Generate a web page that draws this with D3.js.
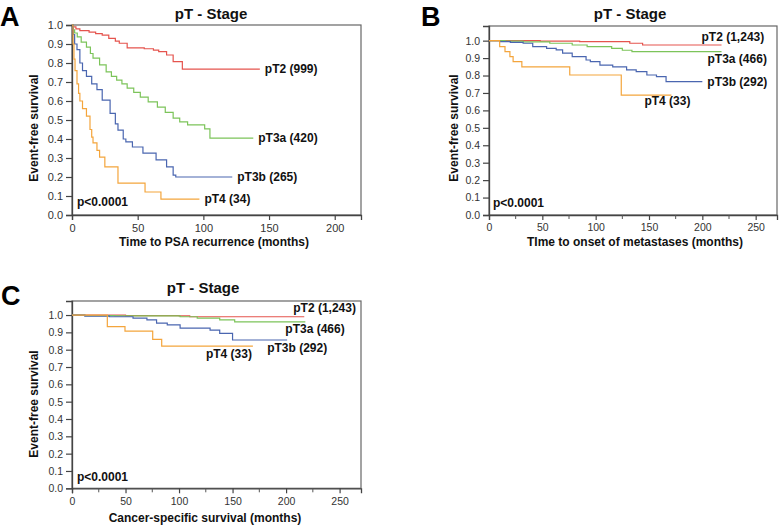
<!DOCTYPE html>
<html><head><meta charset="utf-8">
<script src="https://cdn.jsdelivr.net/npm/d3@7"></script>
<style>
body{margin:0;background:#fff}
text{font-family:"Liberation Sans",Arial,Helvetica,sans-serif}
</style>
</head><body>
<svg id="chart" width="781" height="525"></svg>
<script>
// ---------- DATA ----------
const groups = ["pT2", "pT3a", "pT3b", "pT4"];
const yTickValues = [0, 0.1, 0.2, 0.3, 0.4, 0.5, 0.6, 0.7, 0.8, 0.9, 1.0];
const xTicksA = [0, 50, 100, 150, 200];
const xTicksBC = [0, 50, 100, 150, 200, 250];
const xMinorBC = [25, 75, 125, 175, 225];

// Panel A: time to PSA recurrence  [months, survival]
const labelsA = ["pT2 (999)", "pT3a (420)", "pT3b (265)", "pT4 (34)"];
const a_pT2 = [[0,1],[1,0.99],[3,0.98],[6,0.97],[13,0.962],[18,0.955],[23,0.947],[28,0.93],[33,0.915],[36,0.904],[42,0.88],[55,0.875],[62,0.868],[66,0.86],[72,0.842],[77,0.807],[84,0.768],[143,0.768]];
const a_pT3a = [[0,1],[1,0.975],[2,0.958],[4,0.937],[7,0.91],[11,0.884],[14,0.85],[16,0.826],[21,0.79],[26,0.753],[30,0.73],[34,0.71],[38,0.69],[42,0.668],[47,0.645],[52,0.62],[58,0.595],[65,0.568],[71,0.54],[77,0.51],[82,0.49],[88,0.474],[101,0.453],[105,0.405],[138,0.405]];
const a_pT3b = [[0,1],[1,0.95],[2,0.9],[3.8,0.87],[6,0.8],[8,0.76],[11,0.73],[15,0.69],[19,0.66],[23,0.605],[29,0.535],[33,0.48],[35,0.447],[39,0.4],[41,0.385],[46,0.358],[54,0.326],[64,0.29],[72,0.253],[77,0.21],[79,0.2],[122,0.2]];
const a_pT4 = [[0,1],[0.8,0.9],[1.5,0.82],[2.3,0.76],[3.8,0.69],[5,0.64],[6,0.6],[8,0.56],[11,0.52],[13.7,0.45],[15,0.41],[16,0.38],[19,0.34],[21,0.305],[25,0.253],[35,0.168],[55.6,0.121],[67.7,0.084],[97,0.084]];

// Panel B: time to onset of metastases
const labelsB = ["pT2 (1,243)", "pT3a (466)", "pT3b (292)", "pT4 (33)"];
const b_pT2 = [[0,1],[48,0.997],[85,0.994],[132,0.985],[144,0.975],[218,0.975]];
const b_pT3a = [[0,1],[15,0.997],[32,0.993],[57,0.985],[78,0.975],[92,0.966],[115,0.956],[125,0.945],[134,0.937],[218,0.937]];
const b_pT3b = [[0,1],[10,0.994],[20,0.99],[32,0.985],[41,0.966],[54,0.956],[63,0.947],[69,0.928],[78,0.908],[91,0.889],[95,0.88],[104,0.86],[116,0.85],[129,0.832],[138,0.822],[148,0.803],[157,0.794],[166,0.765],[200,0.765]];
const b_pT4 = [[0,1],[10,0.966],[15,0.937],[19.6,0.908],[22.6,0.88],[30.8,0.85],[75.7,0.803],[124,0.688],[171,0.688]];

// Panel C: cancer-specific survival
const labelsC = ["pT2 (1,243)", "pT3a (466)", "pT3b (292)", "pT4 (33)"];
const c_pT2 = [[0,1],[50,0.997],[100,0.995],[110,0.99],[217,0.99]];
const c_pT3a = [[0,1],[12,0.997],[40,0.995],[101,0.99],[117,0.982],[138,0.972],[152,0.961],[218,0.961]];
const c_pT3b = [[0,1],[12,0.994],[35,0.99],[57,0.982],[70,0.972],[79,0.953],[89,0.943],[101,0.925],[129,0.913],[138,0.894],[150,0.856],[201,0.856]];
const c_pT4 = [[0,1],[33,0.933],[49.5,0.907],[75.4,0.86],[83.8,0.821],[169,0.821]];

// ---------- STYLE / LAYOUT ----------
const colors = {pT2:"#e5544e", pT3a:"#7cc45a", pT3b:"#4a66b0", pT4:"#f4a53c"};

const panels = [
  {letter:"A", lx:0, ly:26, title:"pT - Stage", tx:211, ty:19,
   left:72, right:361, top:25, bottom:215, xmax:220, ymax:1.0,
   xTicks:xTicksA, xMinor:[], tickFont:11,
   xLabel:"Time to PSA recurrence (months)", xlx:214, xly:246,
   ylx:38, yly:128, px:77, py:206,
   series:[a_pT2,a_pT3a,a_pT3b,a_pT4], labels:labelsA,
   lab:[[5,0],[5,0],[5,0],[5,0]]},
  {letter:"B", lx:421, ly:26, title:"pT - Stage", tx:630, ty:19,
   left:489, right:777, top:26, bottom:215, xmax:270, ymax:1.084,
   xTicks:xTicksBC, xMinor:xMinorBC, tickFont:10.5,
   xLabel:"TIme to onset of metastases (months)", xlx:635, xly:246,
   ylx:458, yly:128, px:493, py:207,
   series:[b_pT2,b_pT3a,b_pT3b,b_pT4], labels:labelsB,
   lab:[[-20,-8],[-14,7],[5,0],[-27,6]]},
  {letter:"C", lx:1, ly:305, title:"pT - Stage", tx:203, ty:293,
   left:72, right:361, top:301, bottom:488.3, xmax:270, ymax:1.081,
   xTicks:xTicksBC, xMinor:xMinorBC, tickFont:10.5,
   xLabel:"Cancer-specific survival (months)", xlx:205, xly:522,
   ylx:38, yly:404, px:77, py:481,
   series:[c_pT2,c_pT3a,c_pT3b,c_pT4], labels:labelsC,
   lab:[[-11,-9],[-20,7],[-20,8],[-47,8]]}
];

const svg = d3.select("#chart");

panels.forEach(p => {
  const g = svg.append("g");
  const x = d3.scaleLinear().domain([0, p.xmax]).range([p.left, p.right]);
  const y = d3.scaleLinear().domain([0, p.ymax]).range([p.bottom, p.top]);

  // panel letter
  g.append("text").attr("x", p.lx).attr("y", p.ly)
    .attr("font-size", 27).attr("font-weight", "bold").attr("fill", "#000").text(p.letter);
  // title
  g.append("text").attr("x", p.tx).attr("y", p.ty).attr("text-anchor", "middle")
    .attr("font-size", 15).attr("font-weight", "bold").attr("fill", "#111").text(p.title);

  // frame
  g.append("rect").attr("x", p.left).attr("y", p.top)
    .attr("width", p.right - p.left).attr("height", p.bottom - p.top)
    .attr("fill", "none").attr("stroke", "#666").attr("stroke-width", 1.2);

  // y axis
  const ya = g.append("g").attr("transform", `translate(${p.left},0)`)
    .call(d3.axisLeft(y).tickValues(yTickValues).tickFormat(d3.format(".1f")).tickSize(6).tickPadding(3));
  // x axis
  const xa = g.append("g").attr("transform", `translate(0,${p.bottom})`)
    .call(d3.axisBottom(x).tickValues(p.xTicks).tickFormat(d3.format("d")).tickSize(5).tickPadding(4));
  [ya, xa].forEach(a => {
    a.select(".domain").attr("stroke", "#444").attr("stroke-width", 1.3);
    a.selectAll(".tick line").attr("stroke", "#444").attr("stroke-width", 1.2);
    a.selectAll(".tick text").attr("font-size", p.tickFont).attr("fill", "#333")
      .attr("font-family", '"Liberation Sans",Arial,sans-serif');
  });
  // minor ticks
  g.selectAll(".minor").data(p.xMinor).enter().append("line")
    .attr("x1", d => x(d)).attr("x2", d => x(d))
    .attr("y1", p.bottom).attr("y2", p.bottom + 4)
    .attr("stroke", "#555").attr("stroke-width", 1);

  // axis labels
  g.append("text").attr("x", p.xlx).attr("y", p.xly).attr("text-anchor", "middle")
    .attr("font-size", 12).attr("font-weight", "bold").attr("fill", "#111").text(p.xLabel);
  g.append("text").attr("transform", `translate(${p.ylx},${p.yly}) rotate(-90)`)
    .attr("text-anchor", "middle")
    .attr("font-size", 12).attr("font-weight", "bold").attr("fill", "#111").text("Event-free survival");

  // curves
  const line = d3.line().x(d => x(d[0])).y(d => y(d[1])).curve(d3.curveStepAfter);
  p.series.forEach((s, i) => {
    g.append("path").datum(s).attr("d", line)
      .attr("fill", "none").attr("stroke", colors[groups[i]]).attr("stroke-width", 1.2);
  });
  // curve labels
  p.series.forEach((s, i) => {
    const last = s[s.length - 1];
    g.append("text")
      .attr("x", x(last[0]) + p.lab[i][0])
      .attr("y", y(last[1]) + p.lab[i][1])
      .attr("dy", "0.35em")
      .attr("font-size", 12).attr("font-weight", "bold").attr("fill", "#111")
      .text(p.labels[i]);
  });

  // p value
  g.append("text").attr("x", p.px).attr("y", p.py)
    .attr("font-size", 12).attr("font-weight", "bold").attr("fill", "#111").text("p<0.0001");
});
</script>
</body></html>
